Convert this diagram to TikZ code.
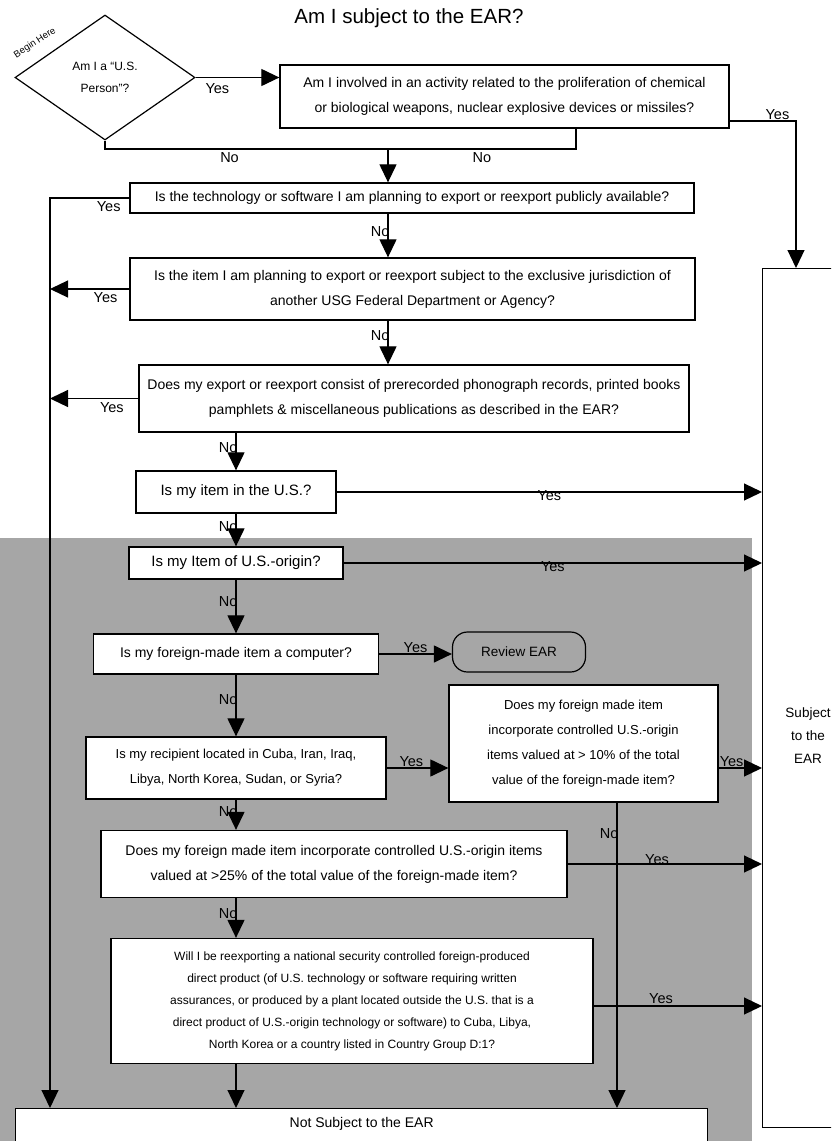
\documentclass[tikz,border=0pt]{standalone}
\usepackage{fontspec}
\setmainfont{Liberation Sans}
\usepackage{tikz}
\usetikzlibrary{arrows.meta,positioning,shapes.geometric,calc}

\begin{document}
\begin{tikzpicture}[x=1pt, y=-1pt,
  >={Triangle[length=18pt,width=17pt]},
  qb/.style={draw, line width=1.3pt, fill=white, align=center, inner sep=2pt, font=\fontsize{14}{25}\selectfont},
  qs/.style={qb, font=\fontsize{13}{25}\selectfont},
  yn/.style={font=\fontsize{14.5}{16}\selectfont, inner sep=1pt},
  ln/.style={line width=1.2pt}]
  \useasboundingbox (0,0) rectangle (831,1141);
  \clip (0,0) rectangle (831,1141);
  \fill[black!35] (0,538) rectangle (752,1141);
  \node[font=\fontsize{20.5}{24}\selectfont] (ttl) at (409,18) {Am I subject to the EAR?};
  \node[diamond, draw, line width=1.2pt, minimum width=180pt, minimum height=125pt, inner sep=0pt, align=center, font=\fontsize{12}{22}\selectfont] (d0) at (105,77.5) {Am I a “U.S.\\Person”?};
  \node[rotate=33, font=\fontsize{9.5}{11}\selectfont, inner sep=0pt] (bh) at (35,43) {Begin Here};
  \node[qb, minimum width=449pt, minimum height=63pt] (q1) at (504.5,96.5) {Am I involved in an activity related to the proliferation of chemical\\or biological weapons, nuclear explosive devices or missiles?};
  \node[qb, minimum width=564pt, minimum height=30pt] (q2) at (412,198) {Is the technology or software I am planning to export or reexport publicly available?};
  \node[qb, minimum width=565pt, minimum height=62pt] (q3) at (412.5,289) {Is the item I am planning to export or reexport subject to the exclusive jurisdiction of\\another USG Federal Department or Agency?};
  \node[qb, minimum width=550pt, minimum height=67pt] (q4) at (414,398.5) {Does my export or reexport consist of prerecorded phonograph records, printed books\\pamphlets \& miscellaneous publications as described in the EAR?};
  \node[qb, minimum width=200pt, minimum height=42pt, font=\fontsize{15}{17}\selectfont] (q5) at (236,492) {Is my item in the U.S.?};
  \node[qb, minimum width=214pt, minimum height=32pt, font=\fontsize{15}{17}\selectfont] (q6) at (236,563) {Is my Item of U.S.-origin?};
  \node[qb, minimum width=285pt, minimum height=40pt] (q7) at (236,654) {Is my foreign-made item a computer?};
  \node[draw, line width=1.2pt, rounded corners=15pt, minimum width=133pt, minimum height=40pt, font=\fontsize{13.5}{15}\selectfont] (rev) at (519,652) {Review EAR};
  \node[qs, minimum width=300pt, minimum height=62pt] (q8) at (236,768) {Is my recipient located in Cuba, Iran, Iraq,\\Libya, North Korea, Sudan, or Syria?};
  \node[qs, minimum width=269pt, minimum height=117pt] (q9) at (583.5,743.5) {Does my foreign made item\\incorporate controlled U.S.-origin\\items valued at > 10\% of the total\\value of the foreign-made item?};
  \node[qb, minimum width=466pt, minimum height=67pt] (q10) at (334,864) {Does my foreign made item incorporate controlled U.S.-origin items\\valued at >25\% of the total value of the foreign-made item?};
  \node[qb, minimum width=482pt, minimum height=125pt, font=\fontsize{12}{22}\selectfont] (q11) at (352,1001) {Will I be reexporting a national security controlled foreign-produced\\direct product (of U.S. technology or software requiring written\\assurances, or produced by a plant located outside the U.S. that is a\\direct product of U.S.-origin technology or software) to Cuba, Libya,\\North Korea or a country listed in Country Group D:1?};
  \node[draw, line width=1.3pt, fill=white, anchor=north west, minimum width=692pt, minimum height=60pt] (nsub) at (15,1108) {};
  \node[font=\fontsize{14}{16}\selectfont, below=6pt of nsub.north] (nsubt) {Not Subject to the EAR};
  \node[draw, line width=1.3pt, anchor=north west, minimum width=110pt, minimum height=859pt] (sub) at (762,268) {};
  \node[align=center, font=\fontsize{13.5}{23}\selectfont] (subt) at (808,736) {Subject\\to the\\EAR};
  \coordinate (jn) at (388,149);
  \coordinate (lft) at (50,1108);
  \coordinate (rgt) at (617,1108);
  \coordinate (sin) at (796,268);
  \draw[ln, ->] (d0.east) -- (d0.east -| q1.west) node[yn, below=4pt, pos=0.26] {Yes};
  \draw[ln] (d0.south) |- (jn) node[yn, below=2pt, pos=0.72] {No};
  \draw[ln] ([xshift=71.5pt]q1.south) |- (jn) node[yn, below=2pt, pos=0.75] {No};
  \draw[ln, ->] (jn) -- (jn |- q2.north);
  \draw[ln, ->] ([yshift=-24.5pt]q1.east) -| (sin) node[yn, above, pos=0.36] {Yes};
  \draw[ln, ->] (q2.west) -| (lft) node[yn, below=2pt, pos=0.13] {Yes};
  \foreach \q in {q3,q4}
    \draw[ln, ->] (\q.west) -- (\q.west -| lft) node[yn, below=2pt, pos=0.3] {Yes};
  \draw[ln, ->] (jn |- q2.south) -- (jn |- q3.north) node[yn, left=-3pt, pos=0.4] {No};
  \draw[ln, ->] (jn |- q3.south) -- (jn |- q4.north) node[yn, left=-3pt, pos=0.35] {No};
  \foreach \a/\b in {q4/q5,q5/q6,q6/q7,q7/q8}
    \draw[ln, ->] (\a.south -| \b.north) -- (\b.north) node[yn, left=-3pt, pos=0.4] {No};
  \draw[ln, ->] (q8.south) -- (q8.south |- q10.north) node[yn, left=-3pt, pos=0.4] {No};
  \draw[ln, ->] (q8.south |- q10.south) -- (q8.south |- q11.north) node[yn, left=-3pt, pos=0.4] {No};
  \draw[ln, ->] (q8.south |- q11.south) -- (q8.south |- nsub.north);
  \foreach \q in {q5,q6}
    \draw[ln, ->] (\q.east) -- (\q.east -| sub.west) node[yn, pos=0.5, yshift=-4pt] {Yes};
  \draw[ln, ->] (q7.east) -- (q7.east -| rev.west) node[yn, above, pos=0.5] {Yes};
  \draw[ln, ->] (q8.east) -- (q8.east -| q9.west) node[yn, pos=0.4, yshift=6pt] {Yes};
  \draw[ln, ->] (q8.east -| q9.east) -- (q8.east -| sub.west) node[yn, pos=0.3, yshift=6pt] {Yes};
  \draw[ln, ->] (q9.south -| rgt) -- (rgt) node[yn, left=-3pt, pos=0.1] {No};
  \draw[ln, ->] (q10.east) -- (q10.east -| sub.west) node[yn, pos=0.46, yshift=4pt] {Yes};
  \draw[ln, ->] ([yshift=-5pt]q11.east) -- ([yshift=-5pt]q11.east -| sub.west) node[yn, pos=0.4, yshift=7pt] {Yes};
\end{tikzpicture}
\end{document}
